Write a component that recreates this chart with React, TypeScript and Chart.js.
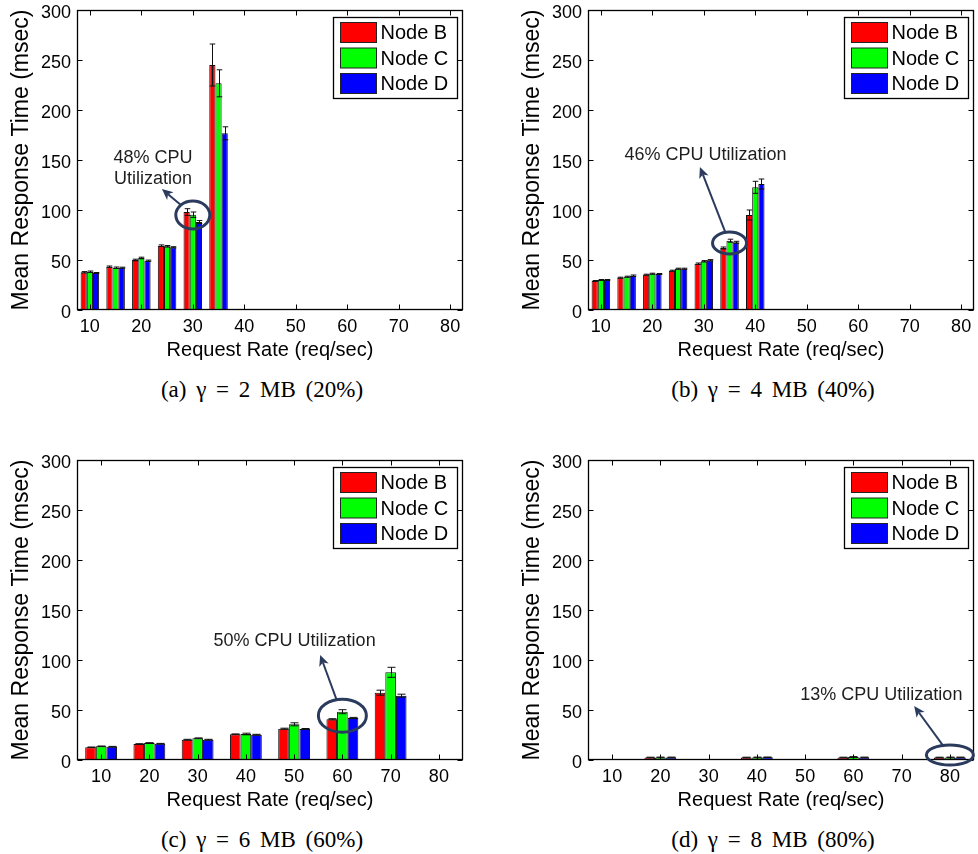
import React, { useEffect, useRef } from 'react';
import { Chart, registerables } from 'chart.js';

Chart.register(...registerables);

// ---------- data ----------
const RATES_FINE = ['10', '15', '20', '25', '30', '35', '40', '45', '50', '55', '60', '65', '70', '75', '80'];
const RATES_COARSE = ['10', '20', '30', '40', '50', '60', '70', '80'];
const SERIES_NAMES = ['Node B', 'Node C', 'Node D'];
const Y_TICKS = [0, 50, 100, 150, 200, 250, 300];

// (a) gamma = 2 MB
const A_NODE_B = [37.7, 43.3, 50, 64.3, 98, 245, 0, 0, 0, 0, 0, 0, 0, 0, 0];
const A_NODE_C = [38.3, 42.3, 52, 63.7, 95.3, 226.7, 0, 0, 0, 0, 0, 0, 0, 0, 0];
const A_NODE_D = [37, 42.3, 49.3, 62.7, 88, 176.7, 0, 0, 0, 0, 0, 0, 0, 0, 0];
const A_ERR_B = [0.7, 0.7, 0.8, 0.8, 3.3, 21, 0, 0, 0, 0, 0, 0, 0, 0, 0];
const A_ERR_C = [0.7, 0.7, 0.8, 0.8, 2.7, 13.5, 0, 0, 0, 0, 0, 0, 0, 0, 0];
const A_ERR_D = [0.5, 0.5, 0.6, 0.6, 1.5, 6.5, 0, 0, 0, 0, 0, 0, 0, 0, 0];

// (b) gamma = 4 MB
const B_NODE_B = [29, 32.3, 35.3, 39.3, 46.3, 62, 95, 0, 0, 0, 0, 0, 0, 0, 0];
const B_NODE_C = [30, 33.3, 36.3, 41.3, 48.7, 69.3, 122.7, 0, 0, 0, 0, 0, 0, 0, 0];
const B_NODE_D = [30, 34.3, 36, 41.3, 49.7, 67.7, 126, 0, 0, 0, 0, 0, 0, 0, 0];
const B_ERR_B = [0.5, 0.5, 0.5, 0.5, 0.7, 1, 5, 0, 0, 0, 0, 0, 0, 0, 0];
const B_ERR_C = [0.5, 0.5, 0.5, 0.5, 0.7, 1.5, 6, 0, 0, 0, 0, 0, 0, 0, 0];
const B_ERR_D = [0.5, 0.7, 0.5, 0.5, 0.7, 1, 5, 0, 0, 0, 0, 0, 0, 0, 0];

// (c) gamma = 6 MB
const C_NODE_B = [12.7, 16, 20.3, 25.7, 31.3, 40.7, 67.3, 0];
const C_NODE_C = [13.7, 17, 21.7, 26, 35.7, 48.3, 87.7, 0];
const C_NODE_D = [13.3, 16.3, 20.3, 25.3, 31, 42, 64.3, 0];
const C_ERR_B = [0.3, 0.3, 0.4, 0.4, 0.5, 0.6, 2.5, 0];
const C_ERR_C = [0.3, 0.3, 0.4, 0.8, 1.5, 2, 5, 0];
const C_ERR_D = [0.3, 0.3, 0.4, 0.4, 0.5, 0.6, 1.5, 0];

// (d) gamma = 8 MB
const D_NODE_B = [0, 2.5, 0, 2.5, 0, 2.5, 0, 2.5];
const D_NODE_C = [0, 2.6, 0, 2.6, 0, 3, 0, 2.6];
const D_NODE_D = [0, 2.6, 0, 2.7, 0, 2.6, 0, 2.6];
const D_ERR_B = [0, 0.3, 0, 0.3, 0, 0.3, 0, 0.3];
const D_ERR_C = [0, 0.3, 0, 0.3, 0, 0.4, 0, 0.3];
const D_ERR_D = [0, 0.3, 0, 0.3, 0, 0.3, 0, 0.3];

// ---------- styles ----------
const SERIES_COLORS = ['#ff0000', '#00ff00', '#0000ff'];
const SANS = '"Liberation Sans", Arial, Helvetica, sans-serif';
const SERIF = '"Liberation Serif", "Times New Roman", Times, serif';
const ANN_COLOR = '#2b3b5e';

type Ann = {
  cx: number; cy: number; rx: number; ry: number;
  tipX: number; tipY: number;
  lines: string[]; textX: number; textY: number[]; fontSize: number;
};

type PanelCfg = {
  labels: string[];
  values: number[][];
  errors: number[][];
  catPct: number;
  left: number;
  top: number;
  caption: string;
  captionX: number;
  captionY: number;
  ann: Ann;
};

const PANELS: PanelCfg[] = [
  {
    labels: RATES_FINE,
    values: [A_NODE_B, A_NODE_C, A_NODE_D],
    errors: [A_ERR_B, A_ERR_C, A_ERR_D],
    catPct: 0.72,
    left: 0, top: 0,
    caption: '(a) γ = 2 MB (20%)', captionX: 262, captionY: 397,
    ann: { cx: 4, cy: 95, rx: 17, ry: 14, tipX: 2.8, tipY: 121, lines: ['48% CPU', 'Utilization'], textX: 2.45, textY: [152, 131], fontSize: 18 },
  },
  {
    labels: RATES_FINE,
    values: [B_NODE_B, B_NODE_C, B_NODE_D],
    errors: [B_ERR_B, B_ERR_C, B_ERR_D],
    catPct: 0.72,
    left: 511, top: 0,
    caption: '(b) γ = 4 MB (40%)', captionX: 773, captionY: 397,
    ann: { cx: 5, cy: 67, rx: 17, ry: 11, tipX: 3.85, tipY: 143, lines: ['46% CPU Utilization'], textX: 4.07, textY: [155], fontSize: 18 },
  },
  {
    labels: RATES_COARSE,
    values: [C_NODE_B, C_NODE_C, C_NODE_D],
    errors: [C_ERR_B, C_ERR_C, C_ERR_D],
    catPct: 0.66,
    left: 0, top: 450,
    caption: '(c) γ = 6 MB (60%)', captionX: 262, captionY: 847,
    ann: { cx: 5, cy: 44.3, rx: 24, ry: 16.5, tipX: 4.54, tipY: 105, lines: ['50% CPU Utilization'], textX: 4.01, textY: [119], fontSize: 18 },
  },
  {
    labels: RATES_COARSE,
    values: [D_NODE_B, D_NODE_C, D_NODE_D],
    errors: [D_ERR_B, D_ERR_C, D_ERR_D],
    catPct: 0.66,
    left: 511, top: 450,
    caption: '(d) γ = 8 MB (80%)', captionX: 773, captionY: 847,
    ann: { cx: 7, cy: 5, rx: 23.5, ry: 10, tipX: 6.26, tipY: 54, lines: ['13% CPU Utilization'], textX: 5.58, textY: [65], fontSize: 18 },
  },
];

const CANVAS_W = 467;
const CANVAS_H = 374;

function makeDeco(cfg: PanelCfg) {
  return {
    id: 'deco',
    afterDraw(chart: any) {
      const ctx = chart.ctx as CanvasRenderingContext2D;
      const xs = chart.scales.x;
      const ys = chart.scales.y;
      const a = chart.chartArea;
      ctx.save();

      // error bars
      ctx.strokeStyle = '#111';
      ctx.lineWidth = 1;
      cfg.errors.forEach((errs, d) => {
        const meta = chart.getDatasetMeta(d);
        meta.data.forEach((bar: any, i: number) => {
          const v = cfg.values[d][i];
          const e = errs[i];
          if (!v || !e) return;
          const yt = ys.getPixelForValue(v + e);
          const yb = ys.getPixelForValue(Math.max(0, v - e));
          const x = Math.round(bar.x) + 0.5;
          const cw = Math.min(4, bar.width * 0.45);
          ctx.beginPath();
          ctx.moveTo(x, yt); ctx.lineTo(x, yb);
          ctx.moveTo(x - cw, yt); ctx.lineTo(x + cw, yt);
          ctx.moveTo(x - cw, yb); ctx.lineTo(x + cw, yb);
          ctx.stroke();
        });
      });

      // frame + inward ticks
      const L = Math.round(a.left) + 0.5;
      const R = Math.round(a.right) - 0.5;
      const T = Math.round(a.top) + 0.5;
      const B = Math.round(a.bottom) - 0.5;
      ctx.strokeStyle = '#000';
      ctx.lineWidth = 1.3;
      ctx.strokeRect(L, T, R - L, B - T);
      ctx.lineWidth = 1;
      ctx.beginPath();
      Y_TICKS.forEach((v) => {
        const y = Math.round(ys.getPixelForValue(v)) + 0.5;
        ctx.moveTo(L, y); ctx.lineTo(L + 5, y);
        ctx.moveTo(R, y); ctx.lineTo(R - 5, y);
      });
      cfg.labels.forEach((lab, i) => {
        if (Number(lab) % 10 !== 0) return;
        const x = Math.round(xs.getPixelForValue(i)) + 0.5;
        ctx.moveTo(x, B); ctx.lineTo(x, B - 5);
        ctx.moveTo(x, T); ctx.lineTo(x, T + 5);
      });
      ctx.stroke();

      // legend
      const bw = 124, bh = 81;
      const bx = Math.round(a.right - 6 - bw) + 0.5;
      const by = Math.round(a.top + 7) + 0.5;
      ctx.fillStyle = '#fff';
      ctx.fillRect(bx, by, bw, bh);
      ctx.strokeStyle = '#000';
      ctx.lineWidth = 1.3;
      ctx.strokeRect(bx, by, bw, bh);
      ctx.font = `20px ${SANS}`;
      ctx.textBaseline = 'middle';
      ctx.textAlign = 'left';
      const rows = [15, 40.5, 66];
      SERIES_NAMES.forEach((name, k) => {
        const cy = by + rows[k];
        ctx.fillStyle = SERIES_COLORS[k];
        ctx.fillRect(bx + 7, cy - 10, 36, 20);
        ctx.lineWidth = 1;
        ctx.strokeStyle = '#222';
        ctx.strokeRect(bx + 7, cy - 10, 36, 20);
        ctx.fillStyle = '#000';
        ctx.fillText(name, bx + 47, cy + 1);
      });

      // annotation
      const an = cfg.ann;
      const ecx = xs.getPixelForValue(an.cx);
      const ecy = ys.getPixelForValue(an.cy);
      const tx = xs.getPixelForValue(an.tipX);
      const ty = ys.getPixelForValue(an.tipY);
      ctx.strokeStyle = ANN_COLOR;
      ctx.fillStyle = ANN_COLOR;
      ctx.lineWidth = 3;
      ctx.beginPath();
      ctx.ellipse(ecx, ecy, an.rx, an.ry, 0, 0, Math.PI * 2);
      ctx.stroke();
      const dx = tx - ecx, dy = ty - ecy;
      const s = 1 / Math.sqrt((dx / an.rx) ** 2 + (dy / an.ry) ** 2);
      const sx = ecx + dx * s, sy = ecy + dy * s;
      const ang = Math.atan2(ty - sy, tx - sx);
      const hl = 11, hw = 5;
      const bxp = tx - hl * Math.cos(ang), byp = ty - hl * Math.sin(ang);
      ctx.lineWidth = 2;
      ctx.beginPath();
      ctx.moveTo(sx, sy);
      ctx.lineTo(bxp + 3 * Math.cos(ang), byp + 3 * Math.sin(ang));
      ctx.stroke();
      ctx.beginPath();
      ctx.moveTo(tx, ty);
      ctx.lineTo(bxp + hw * Math.sin(ang), byp - hw * Math.cos(ang));
      ctx.lineTo(bxp + 3 * Math.cos(ang), byp + 3 * Math.sin(ang));
      ctx.lineTo(bxp - hw * Math.sin(ang), byp + hw * Math.cos(ang));
      ctx.closePath();
      ctx.fill();

      ctx.fillStyle = '#1e1e1e';
      ctx.font = `${an.fontSize}px ${SANS}`;
      ctx.textAlign = 'center';
      ctx.textBaseline = 'middle';
      const tX = xs.getPixelForValue(an.textX);
      an.lines.forEach((line, k) => {
        ctx.fillText(line, tX, ys.getPixelForValue(an.textY[k]));
      });

      ctx.restore();
    },
  };
}

function Panel({ cfg }: { cfg: PanelCfg }) {
  const ref = useRef<HTMLCanvasElement>(null);
  useEffect(() => {
    if (!ref.current) return;
    const labels = cfg.labels;
    const chart = new Chart(ref.current, {
      type: 'bar',
      data: {
        labels,
        datasets: SERIES_NAMES.map((name, k) => ({
          label: name,
          data: cfg.values[k],
          backgroundColor: SERIES_COLORS[k],
          borderColor: '#111',
          borderWidth: 1,
          borderSkipped: false,
          barPercentage: 1,
          categoryPercentage: cfg.catPct,
        })),
      },
      options: {
        responsive: false,
        animation: false,
        devicePixelRatio: 1,
        layout: { padding: { left: 0, top: 10, right: 4, bottom: 4 } },
        plugins: { legend: { display: false }, tooltip: { enabled: false } },
        scales: {
          x: {
            grid: { display: false, drawTicks: false },
            border: { display: false },
            ticks: {
              autoSkip: false,
              maxRotation: 0,
              minRotation: 0,
              padding: 8,
              color: '#000',
              font: { family: SANS, size: 18, lineHeight: 1 },
              callback: (_v: any, i: number) => (Number(labels[i]) % 10 === 0 ? labels[i] : ''),
            },
            title: {
              display: true,
              text: 'Request Rate (req/sec)',
              color: '#000',
              font: { family: SANS, size: 20 },
              padding: { top: 0, bottom: 8 },
            },
            afterFit: (s: any) => { s.height = 60; s.paddingLeft = 0; s.paddingRight = 0; },
          },
          y: {
            min: 0,
            max: 300,
            grid: { display: false, drawTicks: false },
            border: { display: false },
            ticks: {
              stepSize: 50,
              padding: 6,
              labelOffset: 3,
              color: '#000',
              font: { family: SANS, size: 18, lineHeight: 1 },
            },
            title: {
              display: true,
              text: 'Mean Response Time (msec)',
              color: '#000',
              font: { family: SANS, size: 23 },
              padding: { top: 8, bottom: 0 },
            },
            afterFit: (s: any) => { s.width = 77; s.paddingTop = 0; s.paddingBottom = 0; },
          },
        },
      },
      plugins: [makeDeco(cfg)],
    } as any);
    return () => chart.destroy();
  }, [cfg]);
  return (
    <canvas
      ref={ref}
      width={CANVAS_W}
      height={CANVAS_H}
      style={{ position: 'absolute', left: cfg.left, top: cfg.top, width: CANVAS_W, height: CANVAS_H }}
    />
  );
}

export default function App() {
  return (
    <div style={{ position: 'absolute', left: 0, top: 0, width: 978, height: 854, overflow: 'hidden', background: '#fff' }}>
      {PANELS.map((p, i) => (
        <Panel key={i} cfg={p} />
      ))}
      {PANELS.map((p, i) => (
        <div
          key={'c' + i}
          style={{
            position: 'absolute',
            left: p.captionX - 200,
            width: 400,
            top: p.captionY - 20,
            lineHeight: '26px',
            fontSize: 23,
            wordSpacing: 4,
            fontFamily: SERIF,
            textAlign: 'center',
            color: '#000',
            whiteSpace: 'pre',
          }}
        >
          {p.caption}
        </div>
      ))}
    </div>
  );
}
